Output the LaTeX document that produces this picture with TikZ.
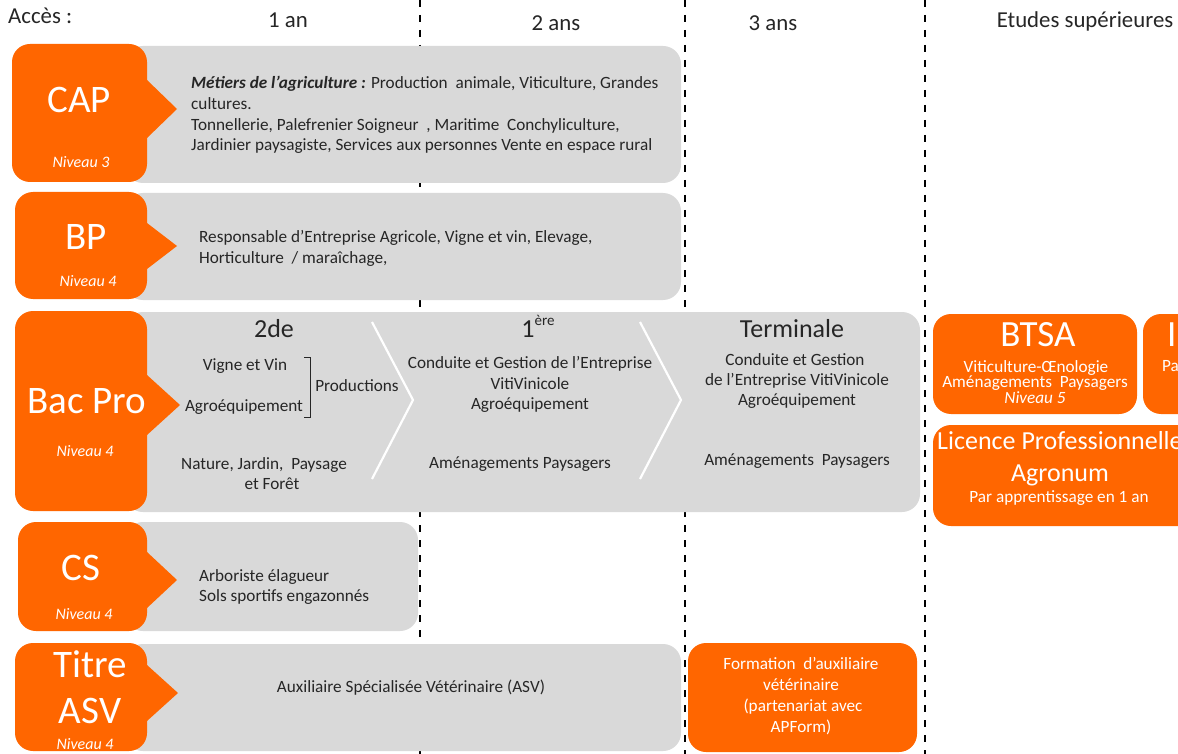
\documentclass[tikz,border=0pt]{standalone}
\usepackage{fontspec}
\setmainfont{Carlito}
\definecolor{orgc}{HTML}{FF6600}
\definecolor{grayc}{HTML}{D9D9D9}
\definecolor{txtc}{HTML}{262626}
\tikzset{
  orangebox/.style={fill=orgc, rounded corners=18pt},
  graybox/.style={fill=grayc, rounded corners=18pt},
  pointer/.style={fill=orgc},
  dline/.style={draw=black, line width=1.8pt, dash pattern=on 7pt off 8pt},
  body/.style={text=txtc, font=\fontsize{17.2}{20.7}\selectfont, inner sep=0pt},
  head/.style={text=txtc, font=\fontsize{22.8}{26}\selectfont, inner sep=0pt},
  year/.style={text=txtc, font=\fontsize{26}{30}\selectfont, inner sep=0pt},
  big/.style={text=white, font=\fontsize{39}{44}\selectfont, inner sep=0pt},
  mid/.style={text=white, font=\fontsize{37}{40}\selectfont, inner sep=0pt},
  lic/.style={text=white, font=\fontsize{26}{30}\selectfont, inner sep=0pt},
  wbody/.style={text=white, font=\fontsize{17.2}{20.7}\selectfont, inner sep=0pt},
  niv/.style={text=white, font=\fontsize{16}{18}\selectfont\itshape, inner sep=0pt},
  chev/.style={draw=white, line width=2.2pt},
  brack/.style={draw=txtc, line width=1pt},
}
\begin{document}
\begin{tikzpicture}[x={(1pt,0pt)}, y={(0pt,-1pt)}]
\useasboundingbox (0,0) rectangle (1178,754);
\clip (0,0) rectangle (1178,754);
\fill[white] (0,0) rectangle (1178,754);

% dashed column separators
\coordinate (d1t) at (420,0); \coordinate (d1b) at (420,754);
\coordinate (d2t) at (685,0); \coordinate (d2b) at (685,754);
\coordinate (d3t) at (925,0); \coordinate (d3b) at (925,754);
\draw[dline] (d1t) -- (d1b);
\draw[dline] (d2t) -- (d2b);
\draw[dline] (d3t) -- (d3b);

% headers
\node[head, anchor=base west] (acc) at (8,24) {Accès :};
\node[head, anchor=base] (an1) at (288,28) {1 an};
\node[head, anchor=base] (an2) at (556,31) {2 ans};
\node[head, anchor=base] (an3) at (773,31) {3 ans};
\node[head, anchor=base] (etu) at (1085,28) {Etudes supérieures};

% ---------- CAP ----------
\path[graybox] (125,46) rectangle (681,183);
\path[orangebox] (12,44) rectangle (147,182);
\fill[pointer] (140,80) -- (147,80) -- (177,109) -- (147,138) -- (140,138) -- cycle;
\node[big, anchor=base] (cap) at (79,113) {CAP};
\node[niv, anchor=base] (capn) at (81,168) {Niveau 3};
\node[body, anchor=base west] (capl1) at (191,89) {\textbf{\textit{Métiers de l’agriculture :}} Production~ animale, Viticulture, Grandes};
\node[body, anchor=base west] (capl2) at (191,109.5) {cultures.};
\node[body, anchor=base west] (capl3) at (191,130.2) {Tonnellerie, Palefrenier Soigneur~ , Maritime~ Conchyliculture,};
\node[body, anchor=base west] (capl4) at (191,151) {Jardinier paysagiste, Services aux personnes Vente en espace rural};

% ---------- BP ----------
\path[graybox] (125,193) rectangle (681,300);
\path[orangebox] (15,192) rectangle (147,299);
\fill[pointer] (140,223) -- (147,223) -- (177,246) -- (147,269) -- (140,269) -- cycle;
\node[big, anchor=base] (bp) at (86,249) {BP};
\node[niv, anchor=base] (bpn) at (88,287) {Niveau 4};
\node[body, anchor=base west] (bpl1) at (199,243) {Responsable d’Entreprise Agricole, Vigne et vin, Elevage,};
\node[body, anchor=base west] (bpl2) at (199,263.5) {Horticulture~ / maraîchage,};

% ---------- Bac Pro ----------
\path[graybox] (125,312) rectangle (920,512);
\path[orangebox] (15,311) rectangle (147,511);
\fill[pointer] (140,375) -- (147,375) -- (180,405) -- (147,435) -- (140,435) -- cycle;
\node[big, anchor=base] (bac) at (87,413) {Bac Pro};
\node[niv, anchor=base] (bacn) at (85,456) {Niveau 4};
% chevrons
\coordinate (c1a) at (372,322); \coordinate (c1b) at (413,400); \coordinate (c1c) at (372,479);
\coordinate (c2a) at (640,322); \coordinate (c2b) at (681,400); \coordinate (c2c) at (640,479);
\draw[chev] (c1a) -- (c1b) -- (c1c);
\draw[chev] (c2a) -- (c2b) -- (c2c);
% 2de
\node[year, anchor=base] (sec) at (274,337) {2de};
\node[body, anchor=base] (vv) at (245,370) {Vigne et Vin};
\node[body, anchor=base] (agr1) at (244,411) {Agroéquipement};
\coordinate (br1) at (304,357); \coordinate (br2) at (310,357);
\coordinate (br3) at (310,417); \coordinate (br4) at (304,417);
\draw[brack] (br1) -- (br2) -- (br3) -- (br4);
\node[body, anchor=base] (prod) at (357,391) {Productions};
\node[body, anchor=base] (nat1) at (264,469) {Nature, Jardin,~ Paysage};
\node[body, anchor=base] (nat2) at (272,489) {et Forêt};
% 1ere
\node[year, anchor=base] (prem) at (538,337) {1\raisebox{0.45em}{\fontsize{15}{17}\selectfont ère}};
\node[body, anchor=base] (p1) at (530,368) {Conduite et Gestion de l’Entreprise};
\node[body, anchor=base] (p2) at (530,389) {VitiVinicole};
\node[body, anchor=base] (p3) at (530,409) {Agroéquipement};
\node[body, anchor=base] (p4) at (520,468) {Aménagements Paysagers};
% Terminale
\node[year, anchor=base] (term) at (792,337) {Terminale};
\node[body, anchor=base] (t1) at (795,365) {Conduite et Gestion};
\node[body, anchor=base] (t2) at (797,385.5) {de l’Entreprise VitiVinicole};
\node[body, anchor=base] (t3) at (797,405) {Agroéquipement};
\node[body, anchor=base] (t4) at (797,465) {Aménagements~ Paysagers};

% ---------- CS ----------
\path[graybox] (125,522) rectangle (418,631);
\path[orangebox] (18,522) rectangle (147,631);
\fill[pointer] (140,552) -- (147,552) -- (177,580) -- (147,608) -- (140,608) -- cycle;
\node[big, anchor=base] (cs) at (81,580) {CS};
\node[niv, anchor=base] (csn) at (84,619) {Niveau 4};
\node[body, anchor=base west] (csl1) at (199,581) {Arboriste élagueur};
\node[body, anchor=base west] (csl2) at (199,601.5) {Sols sportifs engazonnés};

% ---------- Titre ASV ----------
\path[graybox] (125,644) rectangle (681,751);
\path[orangebox] (15,643) rectangle (147,751);
\fill[pointer] (140,665) -- (147,665) -- (178,693) -- (147,721) -- (140,721) -- cycle;
\node[big, anchor=base] (titre) at (90,677) {Titre};
\node[big, anchor=base] (asv) at (90,723) {ASV};
\node[niv, anchor=base] (asvn) at (85,749) {Niveau 4};
\node[body, anchor=base] (asvl) at (411,692) {Auxiliaire Spécialisée Vétérinaire (ASV)};

% Formation box
\path[orangebox] (688,643) rectangle (917,752);
\node[wbody, anchor=base] (f1) at (801,669) {Formation~ d’auxiliaire};
\node[wbody, anchor=base] (f2) at (801,690) {vétérinaire};
\node[wbody, anchor=base] (f3) at (803,711) {(partenariat avec};
\node[wbody, anchor=base] (f4) at (801,732) {APForm)};

% ---------- Etudes superieures ----------
\path[orangebox] (933,314) rectangle (1137,414);
\node[mid, anchor=base] (btsa) at (1038,346) {BTSA};
\node[wbody, anchor=base] (b1) at (1036,372) {Viticulture-Œnologie};
\node[wbody, anchor=base] (b2) at (1035,387.5) {Aménagements~ Paysagers};
\node[wbody, anchor=base, font=\fontsize{17.2}{20}\selectfont\itshape] (b3) at (1035,403) {Niveau 5};

\path[orangebox] (1143,314) rectangle (1260,414);
\node[mid, anchor=base west] (inx) at (1167,346) {In};
\node[wbody, anchor=base west] (pax) at (1162,371) {Pa};

\path[orangebox] (933,425) rectangle (1260,526);
\node[lic, anchor=base west] (lic1) at (937,449) {Licence Professionnelle};
\node[lic, anchor=base] (lic2) at (1060,481) {Agronum};
\node[wbody, anchor=base] (lic3) at (1059,502) {Par apprentissage en 1 an};
\end{tikzpicture}
\end{document}
